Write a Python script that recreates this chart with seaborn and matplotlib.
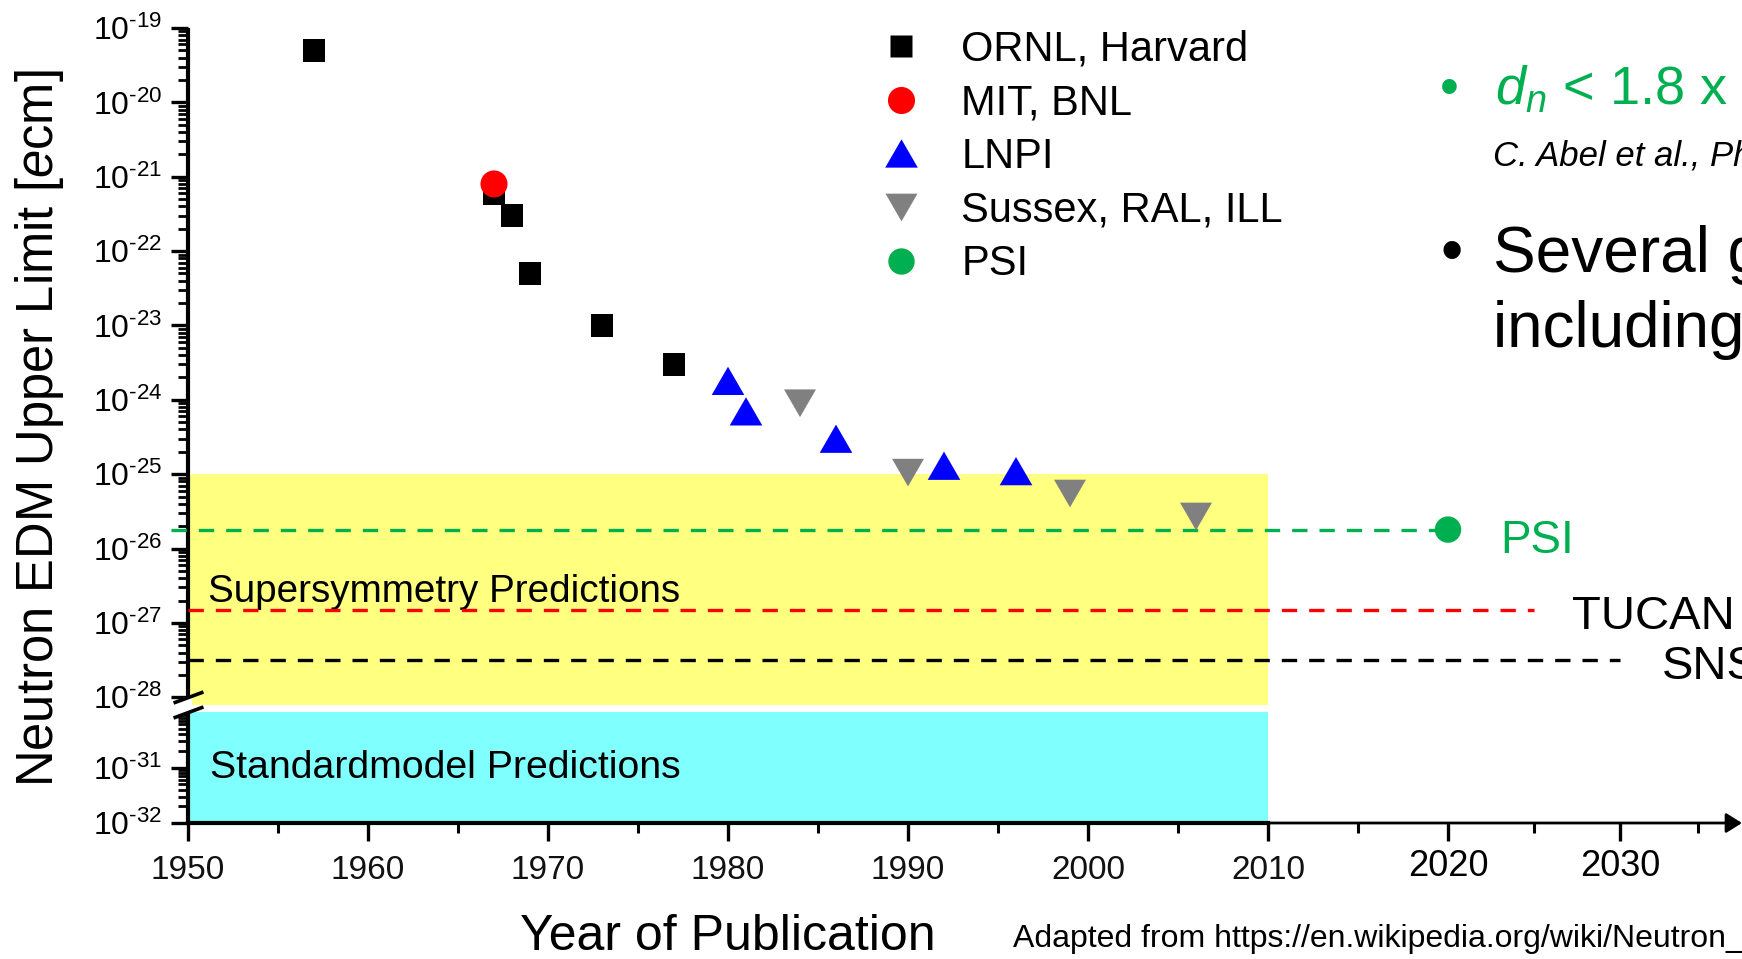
import numpy as np
import pandas as pd
import matplotlib
matplotlib.use("Agg")
import matplotlib.pyplot as plt
import seaborn as sns
from matplotlib.lines import Line2D
from matplotlib.path import Path

# ---------------------------------------------------------------- data
ornl_years = [1957, 1967, 1968, 1969, 1973, 1977]
ornl_limits = [5e-20, 6e-22, 3e-22, 5e-23, 1e-23, 3e-24]
mit_years = [1967]
mit_limits = [8e-22]
lnpi_years = [1980, 1981, 1986, 1992, 1996]
lnpi_limits = [1.8e-24, 7e-25, 3e-25, 1.3e-25, 1.1e-25]
ill_years = [1984, 1990, 1999, 2006]
ill_limits = [9e-25, 1.05e-25, 5.5e-26, 2.7e-26]
psi_years = [2020]
psi_limits = [1.8e-26]

group_names = ["ORNL, Harvard", "MIT, BNL", "LNPI", "Sussex, RAL, ILL", "PSI"]

# future sensitivity goals: limit and year reached
tucan_limit, tucan_year = 1.5e-27, 2025
sns_limit, sns_year = 3.2e-28, 2030

# theory prediction bands (year span, limit span)
band_years = [1950, 2010]
susy_band = [1e-29, 1e-25]
sm_band = [1e-32, 1e-30]

year_ticks = [1950, 1960, 1970, 1980, 1990, 2000, 2010, 2020, 2030]
year_minor = [1955, 1965, 1975, 1985, 1995, 2005, 2015, 2025, 2035]
decades_top = list(range(-19, -29, -1))
decades_bottom = [-31, -32]

# ---------------------------------------------------------------- style
sns.set_style("ticks")
plt.rcParams["font.family"] = ["Liberation Sans", "DejaVu Sans"]
plt.rcParams["mathtext.fontset"] = "custom"
plt.rcParams["mathtext.rm"] = "Liberation Sans"
plt.rcParams["mathtext.it"] = "Liberation Sans:italic"
plt.rcParams["mathtext.bf"] = "Liberation Sans:bold"
plt.rcParams["text.color"] = "black"
plt.rcParams["axes.labelcolor"] = "black"

GREEN = "#00B050"
YELLOW = "#FFFF80"
CYAN = "#80FFFF"

W, H = 1742, 959
fig = plt.figure(figsize=(W / 100, H / 100), dpi=100)
fig.patch.set_facecolor("white")


def px(x, y):
    """pixel position (from top-left) -> figure fraction"""
    return x / W, 1 - y / H


ax = fig.add_axes([188 / W, (H - 823) / H, 1 - 188 / W, (823 - 28) / H])

# broken log axis: full decades down to 1e-28, a squeezed gap, then a
# slightly compressed section for the Standard Model range
LK = [-60.0, -30.0, -29.0, -28.0, 0.0]
FK = [-28.2 - 0.745 * 30, -28.2, -28.107, -28.0, 0.0]


def y_fwd(v):
    v = np.asarray(v, dtype=float)
    return np.interp(np.log10(np.clip(v, 1e-300, None)), LK, FK)


def y_inv(f):
    return 10.0 ** np.interp(np.asarray(f, dtype=float), FK, LK)


# the extension beyond 2020 is drawn slightly tighter
XK = [1800, 1950, 2020, 2030, 2035, 2200]
XP = [188 - 150 * 18, 188, 1448, 1620, 1698, 1698 + 165 * 15.6]


def x_fwd(x):
    return np.interp(np.asarray(x, dtype=float), XK, XP)


def x_inv(p):
    return np.interp(np.asarray(p, dtype=float), XP, XK)


ax.set_yscale("function", functions=(y_fwd, y_inv))
ax.set_xscale("function", functions=(x_fwd, x_inv))

# ---------------------------------------------------------------- bands
ax.fill_between(band_years, susy_band[0], susy_band[1], color=YELLOW, lw=0, zorder=0)
ax.fill_between(band_years, sm_band[0], sm_band[1], color=CYAN, lw=0, zorder=0)
ax.text(1951.1, 1.9e-27, "Supersymmetry Predictions", fontsize=27.8, va="baseline", zorder=2)
ax.text(1951.2, 6.5e-32, "Standardmodel Predictions", fontsize=28.3, va="baseline", zorder=2)

# ---------------------------------------------------------------- limits
dash = dict(lw=2.4, dashes=(4.6, 3.6), clip_on=False, zorder=3)
ax.plot([1949.05, psi_years[0]], [psi_limits[0]] * 2, color=GREEN, **dash)
ax.plot([1950, tucan_year], [tucan_limit] * 2, color="#FF0000", **dash)
ax.plot([1950, sns_year], [sns_limit] * 2, color="black", **dash)

ax.annotate("PSI", xy=(psi_years[0], psi_limits[0]), xytext=(52, -23),
            textcoords="offset pixels", color=GREEN, fontsize=33,
            va="baseline", ha="left", annotation_clip=False)
ax.annotate("TUCAN", xy=(tucan_year, tucan_limit), xytext=(38, -19),
            textcoords="offset pixels", color="black", fontsize=34,
            va="baseline", ha="left", annotation_clip=False)
ax.annotate("SNS", xy=(sns_year, sns_limit), xytext=(42, -19),
            textcoords="offset pixels", color="black", fontsize=34,
            va="baseline", ha="left", annotation_clip=False)

# ---------------------------------------------------------------- points
tri_up = np.array([[-0.5, -0.433], [0.5, -0.433], [0.0, 0.433]])
tri_dn = np.array([[-0.5, 0.433], [0.5, 0.433], [0.0, -0.433]])

df = pd.DataFrame({
    "year": ornl_years + mit_years + lnpi_years + ill_years + psi_years,
    "limit": ornl_limits + mit_limits + lnpi_limits + ill_limits + psi_limits,
    "group": ([group_names[0]] * len(ornl_years) + [group_names[1]] * len(mit_years)
              + [group_names[2]] * len(lnpi_years) + [group_names[3]] * len(ill_years)
              + [group_names[4]] * len(psi_years)),
})

palette = dict(zip(group_names, ["black", "#FF0000", "#0000FF", "#808080", GREEN]))
markers = dict(zip(group_names, ["s", "o", tri_up, tri_dn, "o"]))
msize = dict(zip(group_names, [16.5, 19.5, 23.5, 23.0, 19.0]))
sizes = {k: v ** 2 for k, v in msize.items()}

sns.scatterplot(data=df, x="year", y="limit", hue="group", style="group", size="group",
                hue_order=group_names, style_order=group_names, size_order=group_names,
                palette=palette, markers=markers, sizes=sizes, linewidth=0,
                legend=False, ax=ax, zorder=4, clip_on=False)

# ---------------------------------------------------------------- axes
ax.set_xlim(1950, 2037.82)
ax.set_ylim(1e-32, 1e-19)
ax.set_xlabel("")
ax.set_ylabel("")

major_y = [10.0 ** d for d in decades_top + decades_bottom]
ax.set_yticks(major_y, labels=[rf"$10^{{\text{{-{abs(d)}}}}}$" for d in decades_top + decades_bottom])
minor_y = [k * 10.0 ** d for d in list(range(-20, -29, -1)) + [-31, -32] for k in range(2, 10)]
ax.set_yticks(minor_y, minor=True)
ax.set_xticks(year_ticks, labels=[str(y) for y in year_ticks])
ax.set_xticks(year_minor, minor=True)

for side in ("top", "right"):
    ax.spines[side].set_visible(False)
ax.spines["left"].set_linewidth(3.0)
ax.spines["bottom"].set_linewidth(3.0)
ax.spines["left"].set_color("black")
ax.spines["bottom"].set_color("black")
ax.spines["bottom"].set_bounds(1950, 2010)
ax.spines["left"].set_capstyle("butt")

ax.tick_params(axis="y", which="major", direction="out", length=12.5, width=2.4,
               pad=6, labelsize=23, color="black", labelcolor="black")
ax.tick_params(axis="y", which="minor", direction="out", length=7, width=2.0, color="black")
ax.tick_params(axis="x", which="major", direction="out", length=13, width=2.4,
               pad=10, labelsize=24, color="black", labelcolor="#111111")
ax.tick_params(axis="x", which="minor", direction="out", length=7, width=2.2, color="black")

for lab, tick in zip(ax.get_xticklabels(), ax.xaxis.get_major_ticks()):
    if lab.get_text() in ("2020", "2030"):
        lab.set_fontsize(26)
        lab.set_color("black")
        tick.set_pad(6)

# axis extension with arrow head
ax.annotate("", xy=(1.0, 0.0), xycoords="axes fraction",
            xytext=((1247 - 188) / (W - 188), 0.0), textcoords="axes fraction",
            arrowprops=dict(arrowstyle="-|>,head_length=0.4,head_width=0.25",
                            color="black", lw=2.0, mutation_scale=24,
                            shrinkA=0, shrinkB=0),
            annotation_clip=False, zorder=5)

# break in the y axis
ytr = ax.get_yaxis_transform()
ax.plot([0, 0], [1e-28, 1e-30], transform=ytr, color="white", lw=6,
        solid_capstyle="butt", clip_on=False, zorder=6)
slash = Path([(-1.0, -0.37), (1.0, 0.37)], [Path.MOVETO, Path.LINETO])
ax.plot([0, 0], [1e-28, 1e-30], transform=ytr, ls="none", marker=slash, ms=21.5,
        mec="black", mfc="none", mew=2.6, clip_on=False, zorder=7)

# axis titles
fig.text(*px(40, 428), r"Neutron EDM Upper Limit [$\mathit{e}$cm]", rotation=90,
         fontsize=36.5, ha="center", va="center")
fig.text(*px(728, 950), "Year of Publication", fontsize=36, ha="center", va="baseline")
fig.text(*px(1013, 947), "Adapted from https://en.wikipedia.org/wiki/Neutron_electric_dipole_moment",
         fontsize=23, ha="left", va="baseline")

# legend
handles = [
    Line2D([], [], ls="none", marker=markers[g] if not isinstance(markers[g], np.ndarray) else Path(markers[g]),
           ms=msize[g], mfc=palette[g], mec="none")
    for g in group_names
]
fig.legend(handles, group_names, loc="upper left", bbox_to_anchor=px(880, 30),
           bbox_transform=fig.transFigure, frameon=False, fontsize=30,
           handlelength=1.0, handletextpad=0.95, labelspacing=0.325,
           borderpad=0, borderaxespad=0, labelcolor="black")

# side notes
fig.text(*px(1440, 105), "\u2022", color=GREEN, fontsize=39, va="baseline")
fig.text(*px(1495, 105), r"$d_n$ < 1.8 x 10$^{-26}$ $\mathit{e}$cm", color=GREEN,
         fontsize=39, va="baseline")
fig.text(*px(1493, 166), "C. Abel et al., Phys. Rev. Lett. 124, 081803 (2020)",
         fontsize=25, style="italic", va="baseline", color="black")
fig.text(*px(1440, 272), "\u2022", color="black", fontsize=46, va="baseline")
fig.text(*px(1493, 272), "Several groups worldwide", fontsize=46, va="baseline", color="black")
fig.text(*px(1493, 347), "including TUCAN and SNS", fontsize=46, va="baseline", color="black")

fig.savefig("out.png", dpi=100, facecolor="white")
